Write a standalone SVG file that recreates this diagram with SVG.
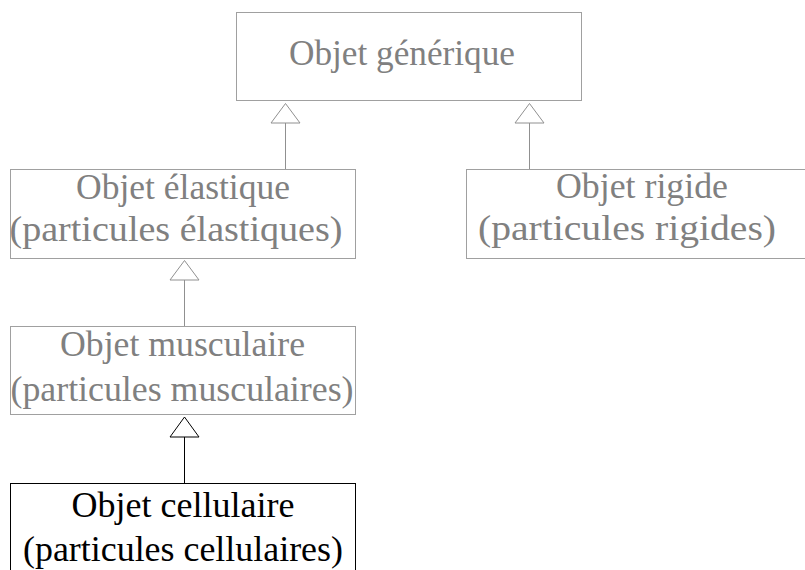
<svg xmlns="http://www.w3.org/2000/svg" width="805" height="570" viewBox="0 0 805 570">
  <style>
    .box { fill: #ffffff; stroke: #a0a0a0; stroke-width: 1; }
    .box.active { stroke: #000000; }
    .lbl { font-family: "Liberation Serif", "Times New Roman", serif; font-size: 35px; fill: #808080; text-anchor: middle; }
    .lbl.active { fill: #000000; }
    .edge { stroke: #909090; stroke-width: 1; fill: none; }
    .head { fill: #ffffff; stroke: #909090; stroke-width: 1; }
    .edge.active, .head.active { stroke: #000000; }
  </style>
  <rect width="805" height="570" fill="#ffffff"/>

  <g id="connectors">
    <!-- Objet élastique -> Objet générique -->
    <line class="edge" x1="285.5" y1="123" x2="285.5" y2="169.5"/>
    <polygon class="head" points="285.5,103.5 271,123 300,123"/>
    <!-- Objet rigide -> Objet générique -->
    <line class="edge" x1="529.5" y1="123" x2="529.5" y2="169.5"/>
    <polygon class="head" points="529.5,103.5 515,123 544,123"/>
    <!-- Objet musculaire -> Objet élastique -->
    <line class="edge" x1="184.5" y1="280" x2="184.5" y2="326"/>
    <polygon class="head" points="184.5,260.5 170,280 199,280"/>
    <!-- Objet cellulaire -> Objet musculaire -->
    <line class="edge active" x1="184.5" y1="437" x2="184.5" y2="483"/>
    <polygon class="head active" points="184.5,417 170,437 199,437"/>
  </g>

  <g id="objet-generique">
    <rect class="box" x="236.5" y="12.5" width="345" height="88"/>
    <text class="lbl" x="402" y="65" textLength="226" lengthAdjust="spacingAndGlyphs">Objet générique</text>
  </g>

  <g id="objet-elastique">
    <rect class="box" x="10.5" y="169.5" width="345" height="89"/>
    <text class="lbl" x="183" y="199" textLength="214" lengthAdjust="spacingAndGlyphs">Objet élastique</text>
    <text class="lbl" x="176" y="241" textLength="333" lengthAdjust="spacingAndGlyphs">(particules élastiques)</text>
  </g>

  <g id="objet-rigide">
    <rect class="box" x="466.5" y="169.5" width="345" height="89"/>
    <text class="lbl" x="642" y="198" textLength="172" lengthAdjust="spacingAndGlyphs">Objet rigide</text>
    <text class="lbl" x="627" y="240" textLength="298" lengthAdjust="spacingAndGlyphs">(particules rigides)</text>
  </g>

  <g id="objet-musculaire">
    <rect class="box" x="10.5" y="326.5" width="345" height="88"/>
    <text class="lbl" x="182.5" y="355.5" textLength="245" lengthAdjust="spacingAndGlyphs">Objet musculaire</text>
    <text class="lbl" x="182" y="400.5" textLength="343" lengthAdjust="spacingAndGlyphs">(particules musculaires)</text>
  </g>

  <g id="objet-cellulaire">
    <rect class="box active" x="10.5" y="483.5" width="345" height="100"/>
    <text class="lbl active" x="183" y="517" textLength="223" lengthAdjust="spacingAndGlyphs">Objet cellulaire</text>
    <text class="lbl active" x="183" y="561" textLength="320" lengthAdjust="spacingAndGlyphs">(particules cellulaires)</text>
  </g>
</svg>
